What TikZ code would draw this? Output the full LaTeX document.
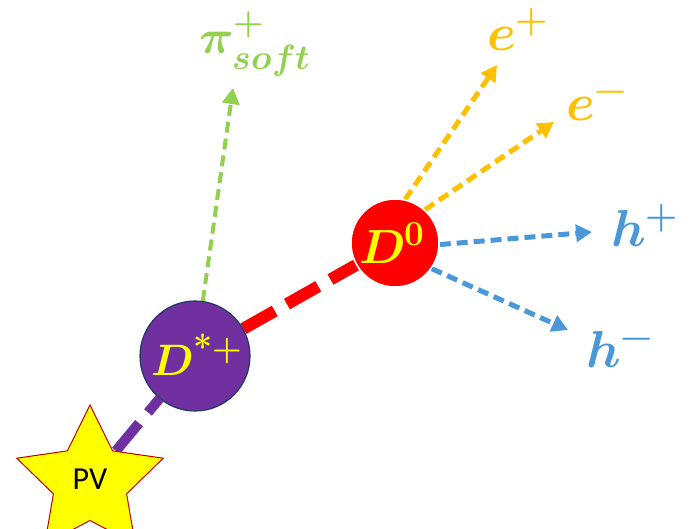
\documentclass[tikz,border=0pt]{standalone}
\usepackage{amsmath}
\usepackage{fontspec}
\usepackage{unicode-math}
\setmathfont{Latin Modern Math}
\newfontfamily\pvfont{Carlito}
\DeclareMathSizes{44}{44}{34}{26}
\DeclareMathSizes{48}{48}{35}{27}
\DeclareMathSizes{52}{52}{37}{28}
\usetikzlibrary{shapes.geometric,arrows.meta,backgrounds}
\definecolor{dpurple}{HTML}{7030A0}
\definecolor{dborder}{HTML}{203864}
\definecolor{dyellow}{HTML}{FFFF00}
\definecolor{dred}{HTML}{FF0000}
\definecolor{dgreen}{HTML}{92D050}
\definecolor{dorange}{HTML}{FFC000}
\definecolor{dblue}{HTML}{4A98D8}
\definecolor{starborder}{HTML}{C00000}
\newcommand{\bsup}[1]{\text{\bfseries #1}}
\tikzset{
  particle/.style={circle,inner sep=0pt},
  lbl/.style={inner sep=0pt},
  track/.style={line width=5pt,dash pattern=on 11pt off 6pt,-{Triangle[length=16pt,width=17pt]}},
  heavy/.style={line width=12pt,dash pattern=on 36pt off 14pt},
}
\begin{document}
\begin{tikzpicture}[x=1pt,y=-1pt]
\useasboundingbox (0,0) rectangle (692,529);
% nodes
\node[star,star points=5,star point ratio=2,minimum size=154pt,inner sep=0pt,
      fill=dyellow,draw=starborder,line width=1pt] (pv) at (90,482) {};
\node[lbl,font=\pvfont\fontsize{32}{34}\selectfont] (pvt) at (90,479) {PV};
\node[particle,minimum size=110pt,fill=dpurple,draw=dborder,line width=1.2pt] (ds) at (195,356) {};
\node[particle,minimum size=88pt,fill=dred,draw=white,line width=1.5pt] (d0) at (395,243) {};
\node[lbl,text=dyellow,font=\fontsize{44}{48}\selectfont] (dst) at (197,355) {$\symbfit{D}^{\bsup{*+}}$};
\node[lbl,text=dyellow,font=\fontsize{48}{52}\selectfont] (d0t) at (392,243) {$\symbfit{D}^{\bsup{0}}$};
% free ends
\coordinate (pitip) at (233,88);
\coordinate (eptip) at (497,65);
\coordinate (emtip) at (554,122);
\coordinate (hptip) at (592,232);
\coordinate (hmtip) at (568,330);
% labels
\node[lbl,text=dgreen,font=\fontsize{48}{52}\selectfont] (pil) at (255,44) {$\symbfit{\pi}^{\bsup{+}}_{\symbfit{soft}}$};
\node[lbl,text=dorange,font=\fontsize{52}{56}\selectfont] (epl) at (518,30) {$\symbfit{e}^{\bsup{+}}$};
\node[lbl,text=dorange,font=\fontsize{52}{56}\selectfont] (eml) at (597,106) {$\symbfit{e}^{\bsup{−}}$};
\node[lbl,text=dblue,font=\fontsize{52}{56}\selectfont] (hpl) at (645,226) {$\symbfit{h}^{\bsup{+}}$};
\node[lbl,text=dblue,font=\fontsize{52}{56}\selectfont] (hml) at (620,350) {$\symbfit{h}^{\bsup{−}}$};
% connectors
\begin{scope}[on background layer]
\draw[heavy,dpurple,line width=10pt] (pv) -- (ds);
\draw[heavy,dred] (ds) -- (d0);
\draw[track,dgreen,line width=4pt] (ds) -- (pitip);
\draw[track,dorange] (d0.77) -- (eptip);
\draw[track,dorange] (d0.48) -- (emtip);
\draw[track,dblue] (d0.-2) -- (hptip);
\draw[track,dblue] (d0.-35) -- (hmtip);
\end{scope}
\end{tikzpicture}
\end{document}
